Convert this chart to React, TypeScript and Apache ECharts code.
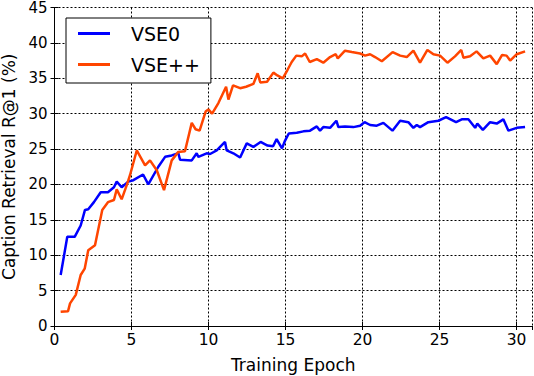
import React, { useEffect, useRef } from "react";
import * as echarts from "echarts";

const vse0Epoch = [0.4, 0.83, 1.31, 1.7, 1.98, 2.19, 2.56, 3.0, 3.47, 3.86, 4.04, 4.36, 4.79, 5.12, 5.75, 6.09, 6.74, 7.18, 7.61, 8.04, 8.15, 8.91, 9.23, 9.34, 9.88, 10.1, 10.53, 11.07, 11.18, 11.61, 12.05, 12.48, 12.91, 13.38, 13.83, 14.19, 14.42, 14.77, 14.97, 15.21, 15.73, 16.16, 16.59, 17.03, 17.24, 17.45, 17.89, 18.3, 18.43, 18.86, 19.4, 19.84, 20.13, 20.49, 20.92, 21.35, 21.94, 22.44, 22.97, 23.3, 23.52, 23.73, 24.27, 24.92, 25.42, 26.07, 26.44, 26.87, 27.31, 27.45, 27.81, 28.28, 28.71, 29.14, 29.47, 30.01, 30.55];
const vse0Recall = [7.2, 12.6, 12.6, 14.2, 16.4, 16.5, 17.5, 18.9, 18.9, 19.6, 20.4, 19.6, 20.4, 20.6, 21.4, 20.0, 22.5, 23.9, 24.1, 24.4, 23.5, 23.4, 24.4, 23.9, 24.4, 24.3, 24.8, 26.0, 24.8, 24.4, 23.8, 25.8, 25.3, 26.0, 25.5, 25.4, 26.4, 25.1, 26.2, 27.2, 27.3, 27.5, 27.6, 28.2, 27.6, 28.1, 28.0, 29.0, 28.1, 28.2, 28.1, 28.3, 28.8, 28.4, 28.3, 28.7, 27.6, 29.0, 28.8, 28.0, 28.4, 28.1, 28.8, 29.0, 29.5, 28.8, 29.2, 29.2, 28.0, 28.6, 27.7, 28.8, 28.6, 29.2, 27.6, 28.0, 28.1];

const vsePPEpoch = [0.4, 0.88, 1.01, 1.38, 1.7, 1.96, 2.19, 2.63, 3.1, 3.47, 3.86, 4.04, 4.36, 4.69, 4.9, 5.34, 5.88, 6.2, 6.64, 7.11, 7.61, 8.04, 8.47, 8.91, 9.16, 9.42, 9.81, 9.99, 10.23, 10.64, 11.14, 11.29, 11.59, 12.05, 12.44, 12.91, 13.19, 13.36, 13.8, 14.21, 14.47, 14.82, 15.13, 15.4, 15.7, 16.05, 16.27, 16.57, 17.03, 17.45, 17.89, 18.26, 18.39, 18.86, 19.3, 19.84, 20.16, 20.49, 20.81, 21.25, 21.95, 22.44, 22.87, 23.3, 23.73, 24.21, 24.6, 25.03, 25.51, 26.0, 26.41, 26.55, 26.98, 27.4, 27.84, 28.28, 28.71, 29.06, 29.35, 29.58, 30.01, 30.55];
const vsePPRecall = [2.0, 2.1, 3.2, 4.4, 7.2, 8.1, 10.7, 11.4, 16.4, 17.5, 17.8, 19.3, 17.9, 19.9, 21.3, 24.8, 22.7, 23.4, 22.0, 19.2, 23.4, 24.6, 24.7, 28.7, 27.8, 27.6, 30.3, 30.6, 30.0, 31.5, 33.8, 32.0, 34.0, 33.6, 33.8, 34.2, 35.7, 34.4, 34.5, 35.8, 35.4, 35.0, 36.2, 37.3, 38.2, 38.1, 38.5, 37.3, 37.7, 37.2, 38.0, 38.4, 37.8, 38.9, 38.7, 38.5, 38.2, 38.4, 38.0, 37.4, 38.7, 38.2, 38.0, 38.9, 37.2, 39.0, 38.4, 38.2, 37.2, 38.1, 39.0, 37.9, 38.1, 38.8, 37.8, 38.2, 37.0, 38.3, 38.2, 37.5, 38.4, 38.8];

const seriesNames = ["VSE0", "VSE++"];
const xTitle = "Training Epoch";
const yTitle = "Caption Retrieval R@1 (%)";

const FONT = "DejaVu Sans";

export default function App() {
  const ref = useRef<HTMLDivElement>(null);
  useEffect(() => {
    if (!ref.current) return;
    const chart = echarts.init(ref.current, null, { renderer: "svg" });
    const pair = (xs: number[], ys: number[]) => xs.map((x, i) => [x, ys[i]]);
    const grid = { left: 54.5, right: 2, top: 7.5, bottom: 50, containLabel: false, outerBoundsMode: "none" };
    const dotted = { color: "#000", width: 1, type: [2, 2] as any };
    chart.setOption({
      animation: false,
      backgroundColor: "#fff",
      grid,
      legend: {
        orient: "vertical",
        left: 66,
        top: 18,
        padding: [6, 11, 9, 12],
        itemGap: 12,
        itemWidth: 32,
        itemHeight: 3,
        icon: "rect",
        borderColor: "#000",
        borderWidth: 1,
        borderRadius: 0,
        backgroundColor: "#fff",
        textStyle: { fontFamily: FONT, fontSize: 19, color: "#000", padding: [0, 0, 0, 16] },
        data: seriesNames,
      },
      xAxis: [
        {
          type: "value",
          min: 0,
          max: 31,
          interval: 5,
          name: xTitle,
          nameLocation: "middle",
          nameGap: 30,
          nameTextStyle: { fontFamily: FONT, fontSize: 17, color: "#000" },
          axisLine: { show: true, lineStyle: { color: "#000", width: 1 } },
          axisTick: { show: true, inside: true, length: 4, lineStyle: { color: "#000" } },
          axisLabel: { fontFamily: FONT, fontSize: 15.5, color: "#000", margin: 6, showMaxLabel: false },
          splitLine: { show: true, lineStyle: dotted },
        },
        {
          type: "value",
          position: "top",
          min: 0,
          max: 31,
          interval: 5,
          axisLine: { show: true, lineStyle: { color: "#000", width: 1 } },
          axisTick: { show: true, inside: true, length: 4, lineStyle: { color: "#000" } },
          axisLabel: { show: false },
          splitLine: { show: false },
        },
      ],
      yAxis: [
        {
          type: "value",
          min: 0,
          max: 45,
          interval: 5,
          name: yTitle,
          nameLocation: "middle",
          nameGap: 36,
          nameTextStyle: { fontFamily: FONT, fontSize: 17, color: "#000", lineHeight: 17 },
          axisLine: { show: true, lineStyle: { color: "#000", width: 1 } },
          axisTick: { show: true, inside: true, length: 4, lineStyle: { color: "#000" } },
          axisLabel: { fontFamily: FONT, fontSize: 15, color: "#000", margin: 7, lineHeight: 14 },
          splitLine: { show: true, lineStyle: dotted },
        },
        {
          type: "value",
          position: "right",
          min: 0,
          max: 45,
          interval: 5,
          axisLine: { show: true, lineStyle: { color: "#000", width: 1 } },
          axisTick: { show: true, inside: true, length: 4, lineStyle: { color: "#000" } },
          axisLabel: { show: false },
          splitLine: { show: false },
        },
      ],
      series: [
        {
          name: seriesNames[0],
          type: "line",
          data: pair(vse0Epoch, vse0Recall),
          showSymbol: false,
          symbol: "none",
          color: "#0000ff",
          lineStyle: { color: "#0000ff", width: 2.5 },
        },
        {
          name: seriesNames[1],
          type: "line",
          data: pair(vsePPEpoch, vsePPRecall),
          showSymbol: false,
          symbol: "none",
          color: "#ff4500",
          lineStyle: { color: "#ff4500", width: 2.5 },
        },
      ],
    });
    return () => chart.dispose();
  }, []);
  return <div ref={ref} style={{ width: 534, height: 376, position: "absolute", left: 0, top: 0 }} />;
}
